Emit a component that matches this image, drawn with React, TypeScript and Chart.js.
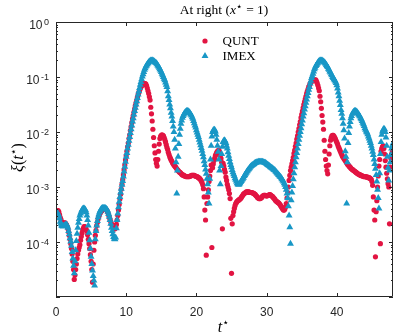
import React, { useEffect, useRef } from "react";
import { Chart, registerables } from "chart.js";

Chart.register(...registerables);

// time grid of the samples (t*)
const T_START = 0;
const T_STEP = 0.1;
const X_MIN = 0;
const X_MAX = 48;
const X_TICKS = [0, 10, 20, 30, 40];
const Y_MIN = 1e-5;
const Y_MAX = 1;
const Y_LABEL_EXPONENTS = [0, -1, -2, -3, -4];

const SERIES_NAMES = ["QUNT", "IMEX"];

// log10 of xi(t*) for QUNT, one value per time sample (rows = one unit of t*)
const QUNT_LOG10 = [
  -3.50, -3.46, -3.43, -3.43, -3.45, -3.50, -3.55, -3.59, -3.63, -3.65,
  -3.66, -3.66, -3.65, -3.65, -3.67, -3.69, -3.72, -3.76, -3.82, -3.88,
  -3.95, -4.03, -4.12, -4.22, -4.35, -4.50, -4.68, -4.60, -4.50, -4.40,
  -4.30, -4.22, -4.15, -4.10, -4.05, -3.97, -3.90, -3.84, -3.78, -3.75,
  -3.72, -3.72, -3.74, -3.77, -3.80, -3.87, -3.95, -4.03, -4.12, -4.23,
  -4.35, -4.50, -4.73, -4.40, -4.15, -4.00, -3.88, -3.79, -3.70, -3.64,
  -3.58, -3.54, -3.50, -3.47, -3.45, -3.43, -3.42, -3.41, -3.40, -3.40,
  -3.40, -3.40, -3.42, -3.44, -3.47, -3.51, -3.55, -3.59, -3.63, -3.67,
  -3.70, -3.73, -3.75, -3.76, -3.76, -3.73, -3.68, -3.60, -3.52, -3.42,
  -3.32, -3.22, -3.13, -3.04, -2.95, -2.87, -2.78, -2.69, -2.60, -2.51,
  -2.43, -2.35, -2.27, -2.20, -2.12, -2.05, -1.97, -1.90, -1.83, -1.76,
  -1.70, -1.64, -1.58, -1.52, -1.47, -1.42, -1.37, -1.32, -1.28, -1.24,
  -1.21, -1.18, -1.16, -1.14, -1.13, -1.12, -1.12, -1.12, -1.13, -1.16,
  -1.20, -1.25, -1.30, -1.36, -1.42, -1.55, -1.67, -1.80, -1.95, -2.10,
  -2.25, -2.38, -2.50, -2.57, -2.62, -2.50, -2.35, -2.22, -2.12, -2.08,
  -2.06, -2.05, -2.06, -2.07, -2.10, -2.14, -2.18, -2.23, -2.28, -2.32,
  -2.37, -2.41, -2.45, -2.48, -2.51, -2.53, -2.56, -2.58, -2.60, -2.62,
  -2.63, -2.65, -2.67, -2.69, -2.70, -2.72, -2.73, -2.74, -2.75, -2.77,
  -2.78, -2.78, -2.79, -2.80, -2.80, -2.81, -2.81, -2.81, -2.81, -2.81,
  -2.81, -2.80, -2.80, -2.79, -2.79, -2.79, -2.79, -2.79, -2.80, -2.80,
  -2.81, -2.81, -2.82, -2.83, -2.84, -2.85, -2.87, -2.89, -2.92, -2.96,
  -3.03, -3.18, -3.42, -3.60, -4.24, -3.30, -3.18, -3.05, -2.90, -2.80,
  -2.70, -2.60, -4.10, -2.65, -2.58, -2.52, -2.48, -2.43, -2.40, -2.37,
  -2.35, -2.34, -2.33, -2.36, -2.42, -2.48, -2.55, -3.76, -2.57, -2.62,
  -2.68, -2.73, -2.82, -2.88, -2.95, -3.00, -3.05, -3.12, -3.21, -3.57,
  -4.57, -3.67, -3.52, -3.45, -3.39, -3.34, -3.30, -3.28, -3.26, -3.25,
  -3.24, -3.23, -3.22, -3.21, -3.19, -3.17, -3.15, -3.13, -3.12, -3.11,
  -3.10, -3.09, -3.09, -3.09, -3.09, -3.09, -3.10, -3.10, -3.10, -3.10,
  -3.11, -3.11, -3.12, -3.13, -3.14, -3.16, -3.17, -3.19, -3.20, -3.21,
  -3.21, -3.21, -3.20, -3.19, -3.17, -3.16, -3.15, -3.15, -3.15, -3.16,
  -3.16, -3.16, -3.15, -3.15, -3.14, -3.14, -3.15, -3.16, -3.17, -3.18,
  -3.20, -3.21, -3.23, -3.25, -3.26, -3.27, -3.28, -3.29, -3.30, -3.32,
  -3.34, -3.36, -3.38, -3.40, -3.42, -3.42, -3.40, -3.36, -3.30, -3.20,
  -3.10, -3.00, -2.88, -2.79, -2.70, -2.64, -2.58, -2.52, -2.46, -2.39,
  -2.33, -2.26, -2.20, -2.13, -2.07, -2.00, -1.94, -1.87, -1.81, -1.74,
  -1.68, -1.62, -1.56, -1.50, -1.45, -1.40, -1.35, -1.30, -1.26, -1.22,
  -1.18, -1.15, -1.12, -1.10, -1.08, -1.07, -1.06, -1.05, -1.05, -1.05,
  -1.05, -1.08, -1.11, -1.15, -1.20, -1.25, -1.35, -1.45, -1.57, -1.70,
  -1.82, -1.95, -2.15, -2.35, -2.50, -2.62, -2.70, -2.76, -2.60, -2.40,
  -2.25, -2.15, -2.10, -2.07, -2.06, -2.06, -2.08, -2.10, -2.13, -2.16,
  -2.19, -2.22, -2.26, -2.29, -2.32, -2.35, -2.38, -2.41, -2.44, -2.46,
  -2.48, -2.50, -2.52, -2.54, -2.56, -2.58, -2.60, -2.61, -2.63, -2.64,
  -2.66, -2.67, -2.68, -2.69, -2.70, -2.71, -2.72, -2.73, -2.74, -2.75,
  -2.76, -2.77, -2.77, -2.78, -2.79, -2.79, -2.80, -2.80, -2.81, -2.81,
  -2.81, -2.81, -2.82, -2.82, -2.82, -2.83, -2.83, -2.84, -2.85, -2.86,
  -2.90, -2.97, -3.18, -3.42, -3.60, -4.27, -3.45, -3.25, -3.00, -2.80,
  -2.62, -2.50, -4.03, -2.35, -2.30, -2.27, -2.25, -2.30, -2.40, -2.52,
  -2.64, -2.75, -2.85, -2.94, -3.00, -3.67, -2.64, -2.48, -2.40, -2.36,
  -2.33,
];

// log10 of xi(t*) for IMEX, one value per time sample (rows = one unit of t*)
const IMEX_LOG10 = [
  -3.50, -3.48, -3.47, -3.49, -3.52, -3.57, -3.63, -3.67, -3.70, -3.71,
  -3.72, -3.71, -3.70, -3.69, -3.68, -3.68, -3.70, -3.74, -3.80, -3.86,
  -3.93, -3.99, -4.07, -4.18, -4.30, -4.43, -4.57, -4.35, -4.15, -3.98,
  -3.85, -3.74, -3.65, -3.58, -3.52, -3.48, -3.45, -3.42, -3.40, -3.39,
  -3.39, -3.40, -3.42, -3.46, -3.52, -3.60, -3.70, -3.83, -3.97, -4.12,
  -4.27, -4.40, -4.52, -4.62, -4.70, -4.79, -3.95, -3.80, -3.70, -3.62,
  -3.55, -3.50, -3.46, -3.43, -3.41, -3.39, -3.38, -3.38, -3.38, -3.38,
  -3.38, -3.39, -3.40, -3.42, -3.45, -3.49, -3.54, -3.60, -3.67, -3.74,
  -3.80, -3.86, -3.91, -3.94, -3.95, -3.92, -3.75, -3.60, -3.48, -3.37,
  -3.27, -3.18, -3.10, -3.03, -2.96, -2.89, -2.81, -2.72, -2.63, -2.54,
  -2.45, -2.38, -2.30, -2.23, -2.16, -2.09, -2.02, -1.95, -1.88, -1.81,
  -1.75, -1.68, -1.62, -1.56, -1.50, -1.44, -1.38, -1.32, -1.26, -1.20,
  -1.14, -1.09, -1.04, -0.99, -0.95, -0.91, -0.87, -0.84, -0.81, -0.79,
  -0.77, -0.75, -0.73, -0.72, -0.71, -0.70, -0.70, -0.70, -0.70, -0.71,
  -0.72, -0.73, -0.74, -0.75, -0.77, -0.79, -0.81, -0.83, -0.86, -0.88,
  -0.91, -0.94, -0.97, -1.00, -1.03, -1.06, -1.10, -1.14, -1.18, -1.26,
  -1.35, -1.42, -1.50, -1.57, -1.65, -1.72, -1.80, -1.90, -2.00, -2.14,
  -2.30, -2.55, -3.12, -2.70, -2.45, -2.22, -2.05, -1.94, -1.85, -1.79,
  -1.74, -1.71, -1.68, -1.66, -1.64, -1.63, -1.62, -1.62, -1.62, -1.63,
  -1.64, -1.66, -1.68, -1.70, -1.73, -1.76, -1.80, -1.84, -1.88, -1.92,
  -1.97, -2.01, -2.05, -2.09, -2.14, -2.19, -2.24, -2.29, -2.34, -2.40,
  -2.46, -2.53, -2.60, -2.68, -2.76, -2.85, -2.95, -3.10, -3.30, -2.85,
  -2.50, -2.25, -2.08, -2.00, -1.97, -1.96, -1.96, -1.99, -2.05, -2.14,
  -2.25, -2.36, -2.50, -2.70, -2.95, -2.62, -2.40, -2.27, -2.18, -2.16,
  -2.15, -2.17, -2.20, -2.25, -2.30, -2.37, -2.43, -2.49, -2.55, -2.60,
  -2.64, -2.69, -2.73, -2.77, -2.80, -2.84, -2.87, -2.90, -2.93, -2.95,
  -2.96, -2.95, -2.93, -2.91, -2.89, -2.87, -2.85, -2.83, -2.80, -2.78,
  -2.76, -2.74, -2.72, -2.70, -2.68, -2.67, -2.65, -2.63, -2.62, -2.61,
  -2.60, -2.59, -2.58, -2.57, -2.56, -2.56, -2.55, -2.55, -2.54, -2.54,
  -2.54, -2.54, -2.54, -2.54, -2.54, -2.55, -2.55, -2.56, -2.56, -2.57,
  -2.58, -2.59, -2.60, -2.61, -2.62, -2.63, -2.64, -2.65, -2.66, -2.67,
  -2.68, -2.69, -2.70, -2.72, -2.73, -2.75, -2.76, -2.78, -2.79, -2.81,
  -2.82, -2.84, -2.86, -2.88, -2.90, -2.93, -2.96, -3.00, -3.05, -3.12,
  -3.20, -3.35, -3.52, -3.73, -4.03, -3.24, -3.10, -2.98, -2.86, -2.75,
  -2.64, -2.55, -2.46, -2.38, -2.30, -2.22, -2.14, -2.07, -2.00, -1.93,
  -1.86, -1.79, -1.72, -1.66, -1.59, -1.53, -1.47, -1.41, -1.35, -1.29,
  -1.23, -1.18, -1.12, -1.07, -1.02, -0.98, -0.94, -0.90, -0.86, -0.83,
  -0.80, -0.78, -0.76, -0.74, -0.72, -0.71, -0.70, -0.70, -0.70, -0.70,
  -0.71, -0.72, -0.73, -0.74, -0.76, -0.78, -0.80, -0.82, -0.85, -0.87,
  -0.90, -0.92, -0.95, -0.97, -1.00, -1.02, -1.04, -1.06, -1.08, -1.11,
  -1.15, -1.21, -1.28, -1.35, -1.43, -1.51, -1.60, -1.67, -1.75, -1.85,
  -1.97, -2.12, -2.35, -2.45, -3.30, -2.55, -2.20, -2.02, -1.90, -1.82,
  -1.75, -1.71, -1.67, -1.65, -1.63, -1.62, -1.62, -1.62, -1.63, -1.64,
  -1.66, -1.68, -1.70, -1.72, -1.75, -1.77, -1.80, -1.83, -1.86, -1.89,
  -1.93, -1.96, -1.99, -2.01, -2.04, -2.08, -2.12, -2.16, -2.20, -2.25,
  -2.30, -2.36, -2.42, -2.50, -2.58, -2.67, -2.78, -2.90, -3.05, -3.20,
  -3.39, -2.75, -2.40, -2.18, -2.05, -1.99, -1.96, -1.94, -1.95, -2.00,
  -2.10, -2.25, -2.45, -2.65, -2.88, -2.70, -2.55, -2.42, -2.30, -2.25,
  -2.21,
];

const RED = "rgb(226,20,66)";
const BLUE = "rgb(24,151,198)";
const AXIS = "#262626";
const SANS = "'Liberation Sans', Arial, sans-serif";
const SERIF = "'Liberation Serif', 'Times New Roman', serif";
const STAR_FONT = "11px 'DejaVu Sans', sans-serif";

type Run = { text: string; font: string; dy?: number };

function drawRuns(ctx: CanvasRenderingContext2D, runs: Run[], x: number, y: number, align: "left" | "center" | "right") {
  let total = 0;
  for (const r of runs) {
    ctx.font = r.font;
    total += ctx.measureText(r.text).width;
  }
  let cx = align === "left" ? x : align === "center" ? x - total / 2 : x - total;
  ctx.textAlign = "left";
  ctx.textBaseline = "alphabetic";
  for (const r of runs) {
    ctx.font = r.font;
    ctx.fillText(r.text, cx, y + (r.dy || 0));
    cx += ctx.measureText(r.text).width;
  }
}

const decorPlugin = {
  id: "matlabDecor",
  afterDatasetsDraw(chart: any) {
    const ctx: CanvasRenderingContext2D = chart.ctx;
    const { left, right, top, bottom } = chart.chartArea;
    const xs = chart.scales.x;
    const ys = chart.scales.y;
    ctx.save();
    ctx.strokeStyle = AXIS;
    ctx.lineWidth = 1;
    // box
    ctx.beginPath();
    ctx.rect(Math.round(left) + 0.5, Math.round(top) + 0.5, Math.round(right - left) - 1, Math.round(bottom - top) - 1);
    ctx.stroke();
    // x ticks (bottom and top, inward)
    ctx.beginPath();
    for (const v of X_TICKS) {
      const px = Math.round(xs.getPixelForValue(v)) + 0.5;
      ctx.moveTo(px, bottom);
      ctx.lineTo(px, bottom - 4);
      ctx.moveTo(px, top);
      ctx.lineTo(px, top + 4);
    }
    // y ticks, major and minor, left and right
    for (let e = -5; e <= 0; e++) {
      const base = Math.pow(10, e);
      const py = Math.round(ys.getPixelForValue(base)) + 0.5;
      ctx.moveTo(left, py);
      ctx.lineTo(left + 4, py);
      ctx.moveTo(right, py);
      ctx.lineTo(right - 4, py);
      if (e < 0) {
        for (let m = 2; m <= 9; m++) {
          const pm = Math.round(ys.getPixelForValue(m * base)) + 0.5;
          ctx.moveTo(left, pm);
          ctx.lineTo(left + 2, pm);
          ctx.moveTo(right, pm);
          ctx.lineTo(right - 2, pm);
        }
      }
    }
    ctx.stroke();

    ctx.fillStyle = AXIS;
    // x tick labels
    ctx.font = `12px ${SANS}`;
    ctx.textAlign = "center";
    ctx.textBaseline = "alphabetic";
    for (const v of X_TICKS) {
      ctx.fillText(String(v), xs.getPixelForValue(v), bottom + 19);
    }
    // y tick labels 10^e
    for (const e of Y_LABEL_EXPONENTS) {
      const py = ys.getPixelForValue(Math.pow(10, e));
      const expText = String(e);
      ctx.font = `9px ${SANS}`;
      ctx.textAlign = "right";
      ctx.fillText(expText, left - 7, py + 3.3);
      const ew = ctx.measureText(expText).width;
      ctx.font = `12px ${SANS}`;
      ctx.fillText("10", left - 7 - ew - 1.5, py + 6.6);
    }

    ctx.fillStyle = "#000";
    // title
    drawRuns(ctx, [
      { text: "At right (", font: `13.5px ${SERIF}` },
      { text: "x", font: `italic 13.5px ${SERIF}` },
      { text: "\u22C6", font: STAR_FONT, dy: -4 },
      { text: " = 1)", font: `13.5px ${SERIF}` },
    ], (left + right) / 2 - 0.5, 13.5, "center");

    // x label
    drawRuns(ctx, [
      { text: "t", font: `italic 16px ${SERIF}` },
      { text: "\u22C6", font: STAR_FONT, dy: -6 },
    ], (left + right) / 2 - 1, 332, "center");

    // y label
    ctx.save();
    ctx.translate(23, (top + bottom) / 2 - 2);
    ctx.rotate(-Math.PI / 2);
    drawRuns(ctx, [
      { text: "\u03BE", font: `italic 16px ${SERIF}` },
      { text: "(", font: `16px ${SERIF}` },
      { text: "t", font: `italic 16px ${SERIF}` },
      { text: "\u22C6", font: STAR_FONT, dy: -6 },
      { text: ")", font: `16px ${SERIF}` },
    ], 0, 0, "center");
    ctx.restore();

    // legend
    ctx.fillStyle = RED;
    ctx.beginPath();
    ctx.arc(205, 41, 2.6, 0, Math.PI * 2);
    ctx.fill();
    ctx.fillStyle = BLUE;
    ctx.beginPath();
    const r = 4;
    ctx.moveTo(205, 56 - r);
    ctx.lineTo(205 + r * 0.866, 56 + r * 0.5);
    ctx.lineTo(205 - r * 0.866, 56 + r * 0.5);
    ctx.closePath();
    ctx.fill();
    ctx.fillStyle = "#000";
    ctx.font = `13px ${SERIF}`;
    ctx.textAlign = "left";
    ctx.textBaseline = "alphabetic";
    ctx.fillText(SERIES_NAMES[0], 222.5, 44.5);
    ctx.fillText(SERIES_NAMES[1], 222.5, 60);
    ctx.restore();
  },
};

function toPoints(logs: number[]) {
  return logs.map((v, i) => ({ x: T_START + i * T_STEP, y: Math.pow(10, v) }));
}

export default function App() {
  const ref = useRef<HTMLCanvasElement | null>(null);
  useEffect(() => {
    if (!ref.current) return;
    const chart = new Chart(ref.current, {
      type: "scatter",
      data: {
        datasets: [
          {
            label: SERIES_NAMES[0],
            data: toPoints(QUNT_LOG10),
            pointStyle: "circle",
            pointRadius: 2.6,
            pointBorderWidth: 0,
            backgroundColor: RED,
            borderColor: RED,
            order: 1,
          },
          {
            label: SERIES_NAMES[1],
            data: toPoints(IMEX_LOG10),
            pointStyle: "triangle",
            pointRadius: 4,
            pointBorderWidth: 0,
            backgroundColor: BLUE,
            borderColor: BLUE,
            order: 0,
          },
        ],
      },
      options: {
        responsive: false,
        animation: false,
        devicePixelRatio: 1,
        layout: { padding: { left: 56, right: 6, top: 22, bottom: 39 } },
        plugins: { legend: { display: false }, title: { display: false }, tooltip: { enabled: false } },
        scales: {
          x: { type: "linear", min: X_MIN, max: X_MAX, display: false },
          y: { type: "logarithmic", min: Y_MIN, max: Y_MAX, display: false },
        },
      },
      plugins: [decorPlugin],
    });
    return () => chart.destroy();
  }, []);
  return (
    <canvas
      ref={ref}
      width={399}
      height={336}
      style={{ position: "absolute", left: 0, top: 0, width: 399, height: 336, background: "#fff" }}
    />
  );
}
